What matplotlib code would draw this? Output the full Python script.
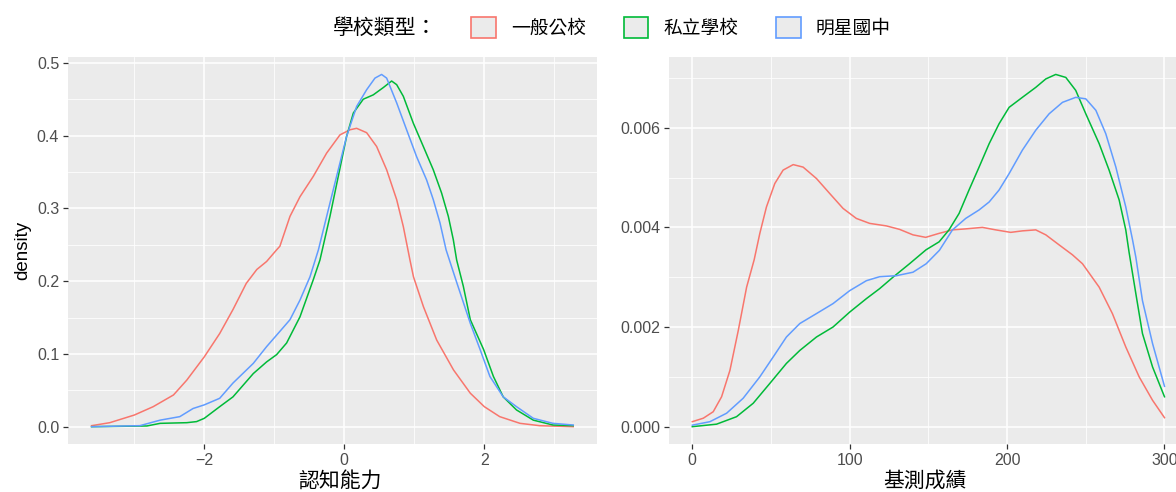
import matplotlib
matplotlib.use('Agg')
import matplotlib.pyplot as plt
from matplotlib.patches import Patch
from matplotlib.ticker import MultipleLocator, FormatStrFormatter

plt.rcParams['font.family'] = ['Liberation Sans', 'Noto Sans CJK TC', 'DejaVu Sans']
cjk = ['Noto Sans CJK TC', 'DejaVu Sans']

groups = ['一般公校', '私立學校', '明星國中']
colors = ['#F8766D', '#00BA38', '#619CFF']

# 認知能力 density
cog_x_red = [-3.61, -3.35, -3.0, -2.73, -2.44, -2.25, -2.0, -1.78, -1.59, -1.4, -1.25, -1.11,
             -0.967, -0.92, -0.776, -0.633, -0.443, -0.252, -0.062, 0.081, 0.176, 0.319, 0.462,
             0.605, 0.748, 0.843, 0.938, 0.988, 1.13, 1.32, 1.56, 1.80, 2.0, 2.22, 2.51, 2.79, 3.27]
cog_d_red = [0.0014, 0.0055, 0.016, 0.0275, 0.0436, 0.064, 0.096, 0.128, 0.161, 0.197, 0.216,
             0.227, 0.243, 0.248, 0.289, 0.316, 0.344, 0.376, 0.401, 0.408, 0.41, 0.404, 0.385,
             0.353, 0.312, 0.275, 0.229, 0.206, 0.165, 0.119, 0.078, 0.046, 0.0275, 0.0138,
             0.0046, 0.0014, 0.0]
cog_x_green = [-3.61, -2.82, -2.63, -2.25, -2.11, -2.0, -1.78, -1.59, -1.3, -1.11, -0.967, -0.824,
               -0.633, -0.443, -0.348, -0.205, -0.086, 0.033, 0.129, 0.271, 0.414, 0.557, 0.676,
               0.748, 0.843, 0.986, 1.129, 1.271, 1.39, 1.486, 1.557, 1.605, 1.70, 1.80, 1.99,
               2.13, 2.27, 2.46, 2.70, 2.98, 3.27]
cog_d_green = [0.0, 0.001, 0.0046, 0.0055, 0.007, 0.0115, 0.0275, 0.041, 0.073, 0.089, 0.099,
               0.115, 0.151, 0.202, 0.229, 0.289, 0.344, 0.399, 0.431, 0.45, 0.456, 0.466, 0.475,
               0.47, 0.454, 0.417, 0.385, 0.353, 0.321, 0.289, 0.257, 0.229, 0.193, 0.147, 0.106,
               0.069, 0.041, 0.023, 0.009, 0.0023, 0.0014]
cog_x_blue = [-3.61, -2.92, -2.63, -2.35, -2.16, -2.0, -1.78, -1.59, -1.3, -1.11, -0.92, -0.776,
              -0.633, -0.49, -0.37, -0.252, -0.11, 0.033, 0.176, 0.319, 0.438, 0.533, 0.605,
              0.748, 0.89, 1.033, 1.176, 1.271, 1.367, 1.454, 1.61, 1.80, 1.94, 2.08, 2.27, 2.46,
              2.70, 2.98, 3.27]
cog_d_blue = [0.0, 0.0014, 0.009, 0.0138, 0.025, 0.03, 0.039, 0.06, 0.087, 0.11, 0.131, 0.147,
              0.174, 0.206, 0.243, 0.289, 0.344, 0.399, 0.44, 0.463, 0.479, 0.484, 0.479, 0.445,
              0.408, 0.371, 0.339, 0.312, 0.28, 0.243, 0.197, 0.142, 0.106, 0.069, 0.041, 0.0275,
              0.0115, 0.0046, 0.0023]

# 基測成績 density
sc_x_red = [0, 7, 13.3, 18.6, 23.9, 29.2, 34.5, 39.3, 42.9, 47.1, 52.4, 57.7, 64.1, 70.4, 78.9,
            87.3, 95.8, 104.2, 112.7, 123.3, 131.7, 140.2, 148.3, 156.8, 165.3, 173.7, 184.3,
            192.8, 202.3, 209.7, 218.2, 224.6, 233, 241.5, 247.9, 258.5, 266.9, 275.4, 283.9,
            292.4, 300]
sc_d_red = [0.0001, 0.00017, 0.0003, 0.0006, 0.00113, 0.00193, 0.0028, 0.00335, 0.00388, 0.00441,
            0.00488, 0.00515, 0.00526, 0.00521, 0.00498, 0.00468, 0.00438, 0.00418, 0.00408,
            0.00403, 0.00396, 0.00385, 0.0038, 0.00388, 0.00395, 0.00397, 0.004, 0.00395, 0.0039,
            0.00393, 0.00395, 0.00385, 0.00365, 0.00345, 0.00327, 0.0028, 0.00227, 0.0016, 0.001,
            0.00053, 0.00018]
sc_x_green = [0, 15.4, 28.1, 38.7, 49.3, 59.8, 68.3, 78.9, 89.4, 100, 110.6, 119, 127.5, 138,
              148.5, 156.8, 163.1, 169.5, 175.8, 182.2, 188.6, 194.9, 201.3, 209.7, 218.2, 224.6,
              230.9, 237.3, 243.6, 250, 258.5, 264.8, 271.2, 275.4, 277.5, 281.8, 286, 292.4, 300]
sc_d_green = [0.0, 0.00005, 0.0002, 0.00047, 0.00087, 0.00127, 0.00153, 0.0018, 0.002, 0.0023,
              0.00257, 0.00277, 0.003, 0.00327, 0.00355, 0.00371, 0.00395, 0.00428, 0.00475,
              0.00521, 0.00568, 0.00608, 0.00641, 0.00661, 0.00681, 0.00698, 0.00707, 0.00701,
              0.00675, 0.00628, 0.00568, 0.00515, 0.00455, 0.00395, 0.0035, 0.00267, 0.00187,
              0.0012, 0.0006]
sc_x_blue = [0, 11.2, 21.8, 32.3, 42.9, 51.4, 59.8, 68.3, 78.9, 89.4, 100, 110.6, 119, 129.6,
             140.2, 148.6, 157, 165.3, 173.7, 182.2, 188.6, 194.9, 201.3, 209.7, 218.2, 226.7,
             235.2, 243.6, 250, 256.4, 262.7, 269.1, 275.4, 279.7, 281.8, 286, 292.4, 300]
sc_d_blue = [0.00003, 0.0001, 0.00027, 0.00057, 0.001, 0.0014, 0.0018, 0.00207, 0.00227, 0.00247,
             0.00273, 0.00293, 0.00301, 0.00303, 0.0031, 0.00327, 0.00354, 0.00395, 0.00418,
             0.00435, 0.00451, 0.00475, 0.00508, 0.00555, 0.00595, 0.00628, 0.00651, 0.00661,
             0.00658, 0.00635, 0.00588, 0.00521, 0.00441, 0.00375, 0.0034, 0.00253, 0.00167,
             0.00081]

W, H = 1176, 492
fig = plt.figure(figsize=(W / 100, H / 100), dpi=100)

bottom = (H - 444.3) / H
height = (444.3 - 57) / H
ax1 = fig.add_axes([67.5 / W, bottom, (597.3 - 67.5) / W, height])
ax2 = fig.add_axes([668.7 / W, bottom, (1188.1 - 668.7) / W, height])


def style(ax):
    ax.set_facecolor('#EBEBEB')
    for s in ax.spines.values():
        s.set_visible(False)
    ax.grid(which='major', color='white', lw=1.1)
    ax.grid(which='minor', color='white', lw=0.55)
    ax.set_axisbelow(True)
    ax.tick_params(which='major', length=3.5, width=0.9, color='#333333',
                   labelcolor='#4D4D4D', labelsize=11.5, pad=2.5)
    ax.tick_params(which='minor', length=0)


cog = [(cog_x_red, cog_d_red), (cog_x_green, cog_d_green), (cog_x_blue, cog_d_blue)]
sc = [(sc_x_red, sc_d_red), (sc_x_green, sc_d_green), (sc_x_blue, sc_d_blue)]

for (x, d), c in zip(cog, colors):
    ax1.plot(x, d, color=c, lw=1.1, solid_joinstyle='round')
for (x, d), c in zip(sc, colors):
    ax2.plot(x, d, color=c, lw=1.1, solid_joinstyle='round')

style(ax1)
style(ax2)

label_y = -(481 - 444.3) / (444.3 - 57)

ax1.set_xlim(-3.954, 3.614)
ax1.set_ylim(-0.0242, 0.508)
ax1.xaxis.set_major_locator(MultipleLocator(2))
ax1.xaxis.set_minor_locator(MultipleLocator(1))
ax1.yaxis.set_major_locator(MultipleLocator(0.1))
ax1.yaxis.set_minor_locator(MultipleLocator(0.05))
ax1.yaxis.set_major_formatter(FormatStrFormatter('%.1f'))
ax1.set_xlabel('認知能力', family=cjk, fontsize=15)
ax1.xaxis.set_label_coords((340 - 67.5) / (597.3 - 67.5), label_y, transform=ax1.transAxes)
ax1.xaxis.label.set_va('center')
ax1.set_ylabel('density', fontsize=13.5, labelpad=4)

ax2.set_xlim(-15, 315)
ax2.set_ylim(-0.000354, 0.00742)
ax2.xaxis.set_major_locator(MultipleLocator(100))
ax2.xaxis.set_minor_locator(MultipleLocator(50))
ax2.yaxis.set_major_locator(MultipleLocator(0.002))
ax2.yaxis.set_minor_locator(MultipleLocator(0.001))
ax2.yaxis.set_major_formatter(FormatStrFormatter('%.3f'))
ax2.set_xlabel('基測成績', family=cjk, fontsize=15)
ax2.xaxis.set_label_coords((925 - 668.7) / (1188.1 - 668.7), label_y, transform=ax2.transAxes)
ax2.xaxis.label.set_va('center')

# legend on top
handles = [Patch(facecolor='#EBEBEB', edgecolor=c, lw=1.2) for c in colors]
leg = fig.legend(handles, groups, ncol=3, loc='center', bbox_to_anchor=(681 / W, 1 - 28 / H),
                 frameon=False, prop={'family': cjk, 'size': 13.5},
                 handlelength=1.33, handleheight=1.33, handletextpad=0.8, columnspacing=2.0,
                 borderpad=0)
fig.text(333 / W, 1 - 28 / H, '學校類型：', family=cjk, fontsize=15, va='center', ha='left')

fig.savefig('out.png', dpi=100)
